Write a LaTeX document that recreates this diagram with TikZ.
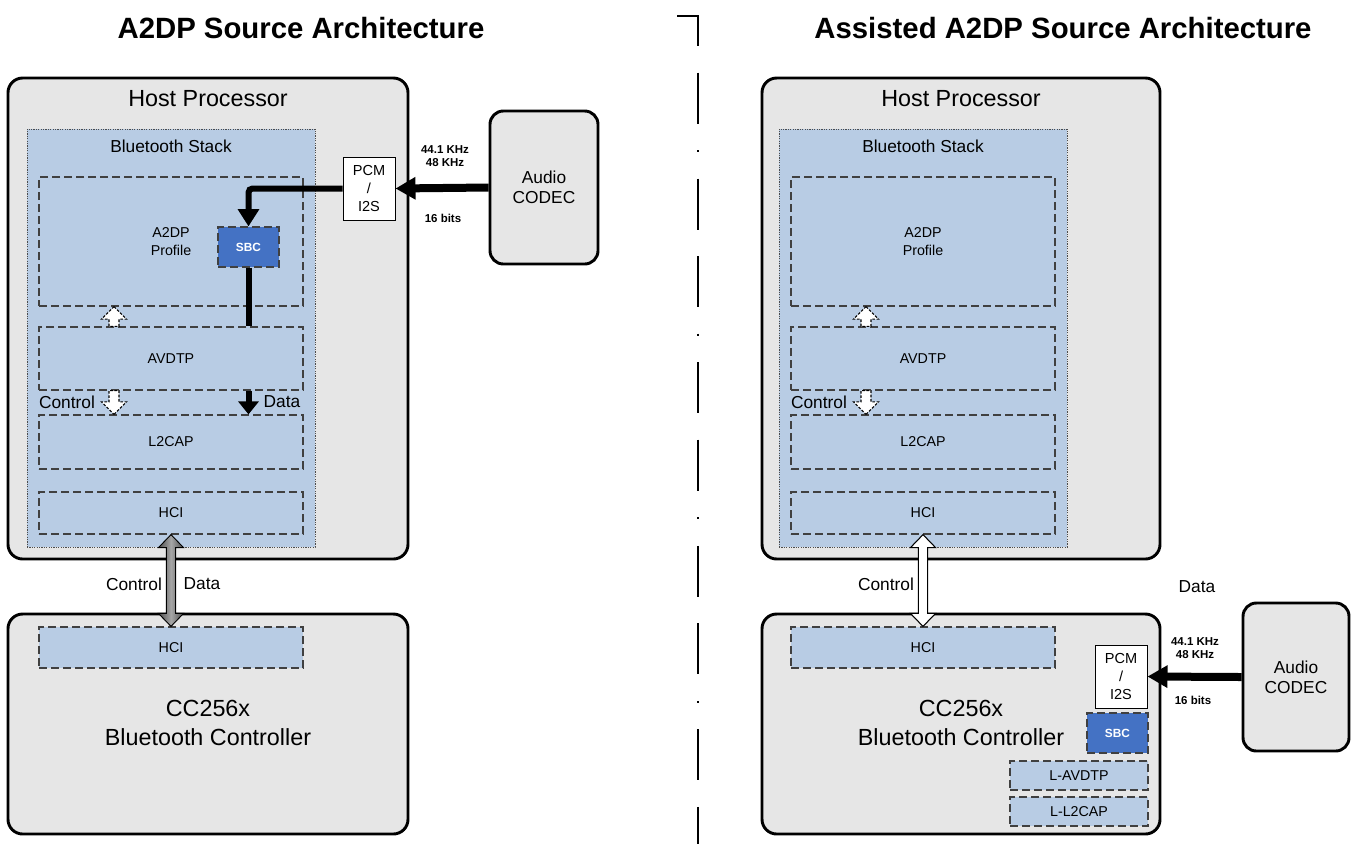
\documentclass[tikz,border=0pt]{standalone}
\usepackage{fontspec}
\setmainfont{Liberation Sans}
\usetikzlibrary{calc,arrows.meta}
\definecolor{boxgray}{HTML}{E6E6E6}
\definecolor{stackblue}{HTML}{B8CCE4}
\definecolor{sbcblue}{HTML}{4472C4}

% block arrows between two nodes (vertical)
\newcommand{\blockup}[3]{%
  \draw[#1] let \p1=(#2), \p2=(#3) in
    (\x1,\y1) -- (\x1+9.4pt,\y1-9.4pt) -- (\x1+3.75pt,\y1-9.4pt) -- (\x1+3.75pt,\y2)
    -- (\x1-3.75pt,\y2) -- (\x1-3.75pt,\y1-9.4pt) -- (\x1-9.4pt,\y1-9.4pt) -- cycle;}
\newcommand{\blockdown}[3]{%
  \draw[#1] let \p1=(#2), \p2=(#3) in
    (\x1,\y1) -- (\x1+9.4pt,\y1+9.4pt) -- (\x1+3.75pt,\y1+9.4pt) -- (\x1+3.75pt,\y2)
    -- (\x1-3.75pt,\y2) -- (\x1-3.75pt,\y1+9.4pt) -- (\x1-9.4pt,\y1+9.4pt) -- cycle;}
\newcommand{\blockboth}[3]{%
  \draw[#1] let \p1=(#2), \p2=(#3) in
    (\x1,\y1) -- (\x1+9.4pt,\y1-9.75pt) -- (\x1+3.5pt,\y1-9.75pt) -- (\x1+3.5pt,\y2+9.75pt)
    -- (\x1+9.4pt,\y2+9.75pt) -- (\x1,\y2) -- (\x1-9.4pt,\y2+9.75pt) -- (\x1-3.5pt,\y2+9.75pt)
    -- (\x1-3.5pt,\y1-9.75pt) -- (\x1-9.4pt,\y1-9.75pt) -- cycle;}

\begin{document}
\begin{tikzpicture}[x=0.75pt,y=-0.75pt]
  \tikzset{
    hostbox/.style={draw,line width=2.2pt,rounded corners=11pt,fill=boxgray},
    stackbox/.style={draw=black!70,line width=0.6pt,dash pattern=on 0.9pt off 0.9pt,fill=stackblue,minimum width=216pt,minimum height=313.5pt},
    layer/.style={draw=black!75,line width=0.9pt,dash pattern=on 6pt off 3pt,fill=stackblue,inner sep=0pt,align=center,font=\fontsize{10.7pt}{13.5pt}\selectfont},
    sbcbox/.style={layer,fill=sbcblue,text=white,minimum width=45.75pt,minimum height=30pt,font=\fontsize{8.9pt}{10pt}\selectfont\bfseries},
    pcmbox/.style={draw,line width=0.7pt,fill=white,align=center,inner sep=0pt,minimum width=39pt,minimum height=47.25pt,font=\fontsize{10.9pt}{13.5pt}\selectfont},
    codecbox/.style={hostbox,rounded corners=10pt,align=center,font=\fontsize{13pt}{15pt}\selectfont},
    bigtext/.style={align=center,font=\fontsize{17.5pt}{21.75pt}\selectfont},
    midtext/.style={font=\fontsize{13pt}{15pt}\selectfont},
    ratetext/.style={align=center,font=\fontsize{8.6pt}{9.75pt}\selectfont\bfseries},
    titletext/.style={font=\fontsize{22pt}{26pt}\selectfont\bfseries},
    datapath/.style={line width=4.5pt,rounded corners=3pt},
    audiolink/.style={line width=6pt,-{Triangle[width=16pt,length=15pt]}},
    ctlarrow/.style={draw=black,fill=white,line width=0.8pt,dash pattern=on 2pt off 1.2pt},
    hcilink/.style={draw=black,line width=0.7pt,left color=black!70,right color=black!70,middle color=black!35},
    hciwhite/.style={draw=black,line width=0.8pt,fill=white},
    sepline/.style={line width=2.2pt,dash pattern=on 38.25pt off 19.9pt on 38.25pt off 19.9pt on 1.5pt off 19.9pt}
  }
  \useasboundingbox (0,0) rectangle (1351,844);

  % ---- left: A2DP source
  \node[titletext] (titleL) at (301,28) {A2DP Source Architecture};
  \node[hostbox,minimum width=300pt,minimum height=360.75pt] (hostL) at (208,318.5) {};
  \node[bigtext] (hostLtxt) at (208,99) {Host Processor};
  \node[stackbox] (stackL) at (171,338) {};
  \node[midtext] (stackLtxt) at (171,146) {Bluetooth Stack};
  \node[layer,minimum width=198pt,minimum height=96.75pt] (a2dpL) at (171,241.5) {A2DP\\Profile};
  \node[layer,minimum width=198pt,minimum height=47.25pt] (avdtpL) at (171,358.5) {AVDTP};
  \node[layer,minimum width=198pt,minimum height=40.5pt] (l2capL) at (171,442) {L2CAP};
  \node[layer,minimum width=198pt,minimum height=31.5pt] (hciHL) at (171,513) {HCI};
  \node[sbcbox] (sbcL) at (248.5,247) {SBC};
  \node[pcmbox] (pcmL) at (369,188.5) {PCM\\/\\I2S};
  \node[codecbox,minimum width=81pt,minimum height=114.75pt] (codecL) at (544,187.5) {Audio\\CODEC};
  \node[ratetext] (rateL) at (445,156.5) {44.1 KHz\\48 KHz};
  \node[ratetext] (bitsL) at (443,218) {16 bits};
  \node[hostbox,minimum width=300pt,minimum height=165pt] (ctrlL) at (208,724) {};
  \node[layer,minimum width=198pt,minimum height=30.75pt] (hciCL) at (171,647.5) {HCI};
  \node[bigtext] (ctrlLtxt) at (208,722.5) {CC256x\\Bluetooth Controller};

  \draw[audiolink] (codecL.west) -- (pcmL.east);
  \draw[datapath,-{Triangle[width=15.5pt,length=13pt]}] (pcmL.west) -| (sbcL.north);
  \draw[datapath] (sbcL.south) -- (sbcL.south |- avdtpL.north);
  \draw[datapath,-{Triangle[width=15pt,length=9.75pt]}] (sbcL.south |- avdtpL.south) -- (sbcL.south |- l2capL.north);
  \blockup{ctlarrow}{$(a2dpL.south)+(-57,0)$}{avdtpL.north}
  \blockdown{ctlarrow}{$(l2capL.north)+(-57,0)$}{avdtpL.south}
  \blockboth{hcilink}{hciHL.south}{hciCL.north}
  \node[midtext] (ctlLin) at (67,402) {Control};
  \node[midtext] (dataLin) at (282,402) {Data};
  \node[midtext] (ctlLhci) at (134,584) {Control};
  \node[midtext] (dataLhci) at (202,584) {Data};

  % ---- divider
  \draw[sepline] (677,16) -- (698,16) -- (698,844);

  % ---- right: assisted A2DP source
  \node[titletext] (titleR) at (1063,28) {Assisted A2DP Source Architecture};
  \node[hostbox,minimum width=298.5pt,minimum height=360.75pt] (hostR) at (961,318.5) {};
  \node[bigtext] (hostRtxt) at (961,99) {Host Processor};
  \node[stackbox] (stackR) at (923,338) {};
  \node[midtext] (stackRtxt) at (923,146) {Bluetooth Stack};
  \node[layer,minimum width=198pt,minimum height=96.75pt] (a2dpR) at (923,241.5) {A2DP\\Profile};
  \node[layer,minimum width=198pt,minimum height=47.25pt] (avdtpR) at (923,358.5) {AVDTP};
  \node[layer,minimum width=198pt,minimum height=40.5pt] (l2capR) at (923,442) {L2CAP};
  \node[layer,minimum width=198pt,minimum height=31.5pt] (hciHR) at (923,513) {HCI};
  \node[hostbox,minimum width=298.5pt,minimum height=165pt] (ctrlR) at (961,724) {};
  \node[layer,minimum width=198pt,minimum height=30.75pt] (hciCR) at (923,647.5) {HCI};
  \node[bigtext] (ctrlRtxt) at (961,722.5) {CC256x\\Bluetooth Controller};
  \node[pcmbox] (pcmR) at (1121,676.5) {PCM\\/\\I2S};
  \node[sbcbox] (sbcR) at (1117.5,733) {SBC};
  \node[layer,minimum width=103.5pt,minimum height=21.75pt] (lavdtpR) at (1079,775.5) {L-AVDTP};
  \node[layer,minimum width=103.5pt,minimum height=21.75pt] (ll2capR) at (1079,811.5) {L-L2CAP};
  \node[codecbox,minimum width=79.5pt,minimum height=111pt] (codecR) at (1296,677) {Audio\\CODEC};
  \node[ratetext] (rateR) at (1195,648.5) {44.1 KHz\\48 KHz};
  \node[ratetext] (bitsR) at (1193,700) {16 bits};

  \draw[audiolink] (codecR.west) -- (pcmR.east);
  \blockup{ctlarrow}{$(a2dpR.south)+(-57,0)$}{avdtpR.north}
  \blockdown{ctlarrow}{$(l2capR.north)+(-57,0)$}{avdtpR.south}
  \blockboth{hciwhite}{hciHR.south}{hciCR.north}
  \node[midtext] (ctlRin) at (819,402) {Control};
  \node[midtext] (ctlRhci) at (886,584) {Control};
  \node[midtext] (dataR) at (1197,587) {Data};
\end{tikzpicture}
\end{document}
